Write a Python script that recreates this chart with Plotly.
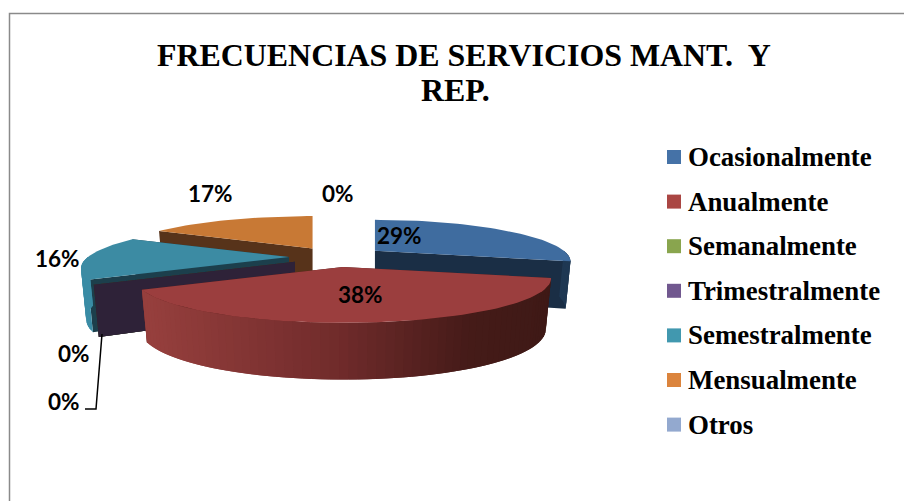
"""Pastel 3D (seccionado) de frecuencias de servicios, dibujado con polígonos Plotly."""
import math

import plotly.graph_objects as go

# ── Datos ─────────────────────────────────────────────────────────────────────
categorias = ["Ocasionalmente", "Anualmente", "Semanalmente", "Trimestralmente",
              "Semestralmente", "Mensualmente", "Otros"]
porcentajes = [29, 38, 0, 0, 16, 17, 0]

# ── Estilo ────────────────────────────────────────────────────────────────────
COL_LEYENDA = ["#4572A7", "#AA4643", "#89A54E", "#71588F", "#4198AF", "#DB843D", "#93A9CF"]
COL_TAPA = ["#3F6C9F", "#9B3E3E", "#89A54E", "#71588F", "#3C8BA3", "#C87935", "#93A9CF"]
COL_CORTE = ["#1A2E45", "#4A1D1A", "#3A4A22", "#2E2238", "#1C3F4C", "#57331A", "#3E4A5E"]
COL_BORDE = ["#1F3853", None, "#5E7236", "#4E3D63", "#3A8CA5", "#A8652B", "#66758F"]
PARADAS_ROJO = [(0.0, (150, 63, 61)), (0.48, (112, 43, 43)), (0.8, (69, 27, 24)), (1.0, (62, 25, 22))]
SERIF = "Liberation Serif"
SANS = "Lato"

# Geometría del pastel en píxeles
CX, CY = 337, 257
RX, RY, P = 201, 41.5, 0.258
EX, EY = 48, 10
PROF = 48.5
ESCALA = [0.94, 1, 1, 1, 1, 0.98, 1]  # las porciones del fondo se ven algo menores
ORDEN = [0, 5, 6, 4, 2, 3, 1]  # de atrás hacia adelante


def rampa(t):
    for (t0, c0), (t1, c1) in zip(PARADAS_ROJO, PARADAS_ROJO[1:]):
        if t <= t1:
            f = (t - t0) / (t1 - t0)
            return "rgb(%d,%d,%d)" % tuple(round(a + (b - a) * f) for a, b in zip(c0, c1))
    return "rgb(62,25,22)"


def apice(bis):
    return CX + EX * math.sin(bis), CY - EY * math.cos(bis)


def borde(a, th, esc, abajo=False):
    """Punto del borde de la porción con perspectiva; abajo=True es la base del muro."""
    xx, yy = math.sin(th), -math.cos(th)
    s = esc / (1 - P * yy)
    px, py = RX * xx * s, RY * yy * s
    if abajo:
        return a[0] + px * 0.975, a[1] + py + PROF * esc * (1 + 0.17 * yy)
    return a[0] + px, a[1] + py


def poligono(fig, pts, color, grosor=0.0):
    fig.add_scatter(
        x=[p[0] for p in pts] + [pts[0][0]], y=[p[1] for p in pts] + [pts[0][1]],
        mode="lines", fill="toself", fillcolor=color,
        line=dict(color=color, width=grosor), hoverinfo="skip", showlegend=False,
    )


def dibuja_porcion(fig, i, ini, fin):
    bis = (ini + fin) / 2
    esc = ESCALA[i]
    a = apice(bis)
    a_bajo = (a[0], a[1] + PROF * esc)
    # caras de corte
    for th in (ini, fin):
        poligono(fig, [a, borde(a, th, esc), borde(a, th, esc, True), a_bajo], COL_CORTE[i])
    # muro exterior (solo la parte que mira al frente); cada tramo solapa al siguiente
    desde, hasta = max(ini, math.pi / 2), min(fin, 3 * math.pi / 2)
    n = max(1, int(math.degrees(hasta - desde) / 2)) if hasta > desde else 0
    for k in range(n):
        t0 = desde + (hasta - desde) * k / n
        t1 = desde + (hasta - desde) * min(k + 2, n) / n
        q = [borde(a, t0, esc), borde(a, t1, esc), borde(a, t1, esc, True), borde(a, t0, esc, True)]
        if COL_BORDE[i] is None:
            color = rampa(min(1, max(0, (q[0][0] - 150) / 405)))
        else:
            color = COL_BORDE[i]
        poligono(fig, q, color)
    # tapa
    if fin > ini:
        m = max(2, int(math.degrees(fin - ini) / 2))
        arco = [borde(a, ini + (fin - ini) * k / m, esc) for k in range(m + 1)]
        poligono(fig, [a] + arco, COL_TAPA[i])


fig = go.Figure()

# Ángulos acumulados desde las 12, en sentido horario
angulos = []
acum = 0
for v in porcentajes:
    ini = acum / sum(porcentajes) * 2 * math.pi
    acum += v
    angulos.append((ini, acum / sum(porcentajes) * 2 * math.pi))

for i in ORDEN:
    dibuja_porcion(fig, i, *angulos[i])

# Leyenda: cuadros y textos
leyenda_y = [157 + 44.6 * k for k in range(len(categorias))]
fig.add_scatter(
    x=[674] * len(categorias), y=leyenda_y, mode="markers",
    marker=dict(symbol="square", size=14, color=COL_LEYENDA, line=dict(width=0)),
    hoverinfo="skip", showlegend=False,
)
anotaciones = [
    dict(x=686, y=yy, text=f"<b>{c}</b>", xanchor="left", yanchor="middle", showarrow=False,
         font=dict(family=SERIF, size=26.9, color="#000000"))
    for c, yy in zip(categorias, leyenda_y)
]

# Etiquetas de porcentaje (posición a mano, como en el original)
pos_etiquetas = [(399, 235), (360, 294), (338, 193), (74, 353), (57, 258), (210, 193), (64, 401)]
orden_et = [0, 1, 6, 2, 4, 5, 3]
for i, j in enumerate(orden_et):
    anotaciones.append(dict(
        x=pos_etiquetas[i][0], y=pos_etiquetas[i][1], text=f"{porcentajes[j]}%",
        showarrow=False, font=dict(family=SANS, size=22.5, color="#000000", weight="bold"),
    ))

# Título en dos líneas
anotaciones.append(dict(x=464, y=55, text="<b>FRECUENCIAS DE SERVICIOS MANT.  Y</b>", showarrow=False,
                        font=dict(family=SERIF, size=31.9, color="#000000")))
anotaciones.append(dict(x=455, y=90, text="<b>REP.</b>", showarrow=False,
                        font=dict(family=SERIF, size=31.9, color="#000000")))

fig.update_layout(
    width=904, height=501, margin=dict(l=0, r=0, t=0, b=0),
    paper_bgcolor="#FFFFFF", plot_bgcolor="#FFFFFF", showlegend=False,
    xaxis=dict(range=[0, 904], visible=False, fixedrange=True),
    yaxis=dict(range=[501, 0], visible=False, fixedrange=True),
    annotations=anotaciones,
    shapes=[
        # marco del gráfico
        dict(type="path", path="M 9.5 501 L 9.5 13.5 L 904 13.5",
             line=dict(color="#8A8A8A", width=1.5), layer="below"),
        # guía de la etiqueta 0%
        dict(type="path", path="M 102 334 L 96 409 L 85 409",
             line=dict(color="#000000", width=1.5)),
    ],
)
fig.write_html(
    "out.html", config={"displayModeBar": False},
    post_script="document.body.style.margin='0';document.body.style.overflow='hidden';",
)
